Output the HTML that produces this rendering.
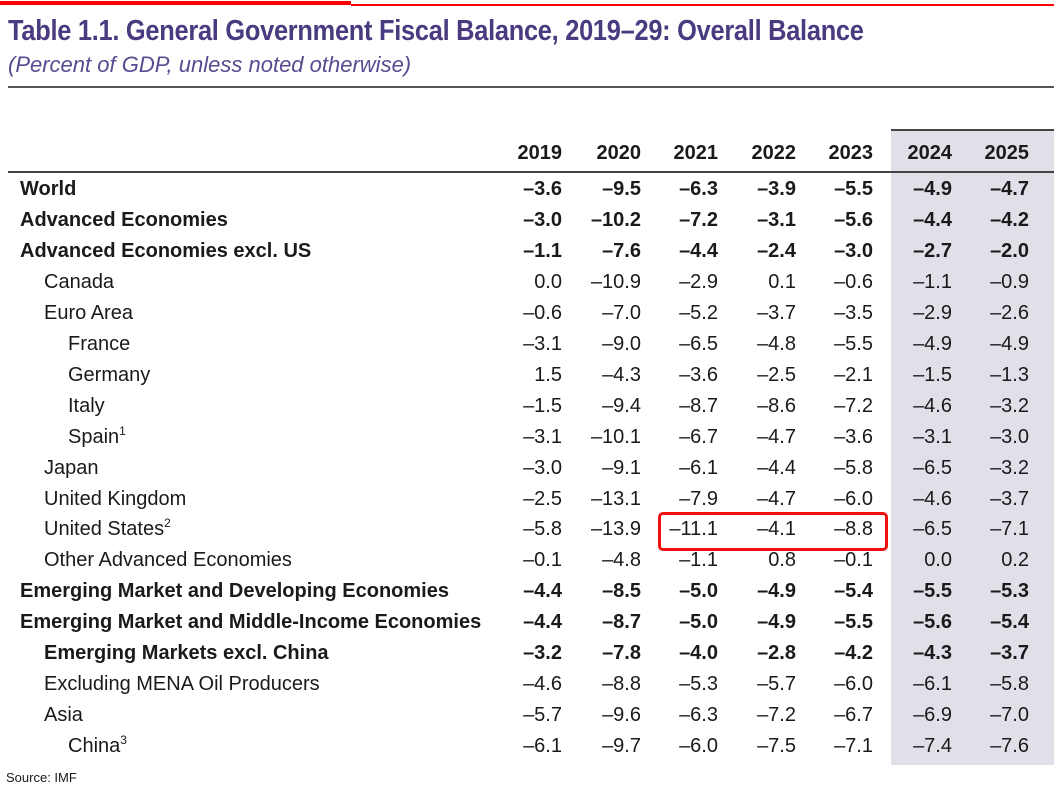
<!DOCTYPE html>
<html><head><meta charset="utf-8"><style>
body{margin:0;width:1054px;height:793px;background:#fff;position:relative;overflow:hidden;font-family:"Liberation Sans Narrow","Liberation Sans",sans-serif;color:#1a1a1a}
.a{position:absolute;white-space:nowrap}
.t{font-size:20px;line-height:24px}
.b{font-weight:bold}
.n{text-align:right;width:70px}
sup{font-size:12px;line-height:0;vertical-align:8px}
</style></head><body>
<div class="a" style="left:0;top:1px;width:351px;height:4px;background:#f00"></div>
<div class="a" style="left:351px;top:4px;width:703px;height:2px;background:#f00"></div>
<div class="a b" style="left:8px;top:15px;font-size:29px;color:#4a3a80;letter-spacing:-0.3px;transform:scaleX(0.875);transform-origin:0 0">Table 1.1. General Government Fiscal Balance, 2019–29: Overall Balance</div>
<div class="a" style="left:8px;top:52px;font-size:22px;font-style:italic;color:#5a4a90">(Percent of GDP, unless noted otherwise)</div>
<div class="a" style="left:8px;top:86px;width:1046px;height:2px;background:#555"></div>
<div class="a" style="left:891px;top:129px;width:163px;height:636px;background:#e3dfe9"></div>
<div class="a" style="left:891px;top:129px;width:163px;height:2px;background:#444"></div>
<div class="a" style="left:8px;top:171px;width:1046px;height:2px;background:#444"></div>
<div id="tbl"></div>
<div class="a" style="left:658px;top:512px;width:224px;height:33px;border:3px solid #f01010;border-radius:5px"></div>
<div class="a" style="left:6px;top:770px;font-family:'Liberation Sans',sans-serif;font-size:13px">Source: IMF</div>
<script>
const years=["2019","2020","2021","2022","2023","2024","2025"];
const labels=["World","Advanced Economies","Advanced Economies excl. US","Canada","Euro Area","France","Germany","Italy","Spain","Japan","United Kingdom","United States","Other Advanced Economies","Emerging Market and Developing Economies","Emerging Market and Middle-Income Economies","Emerging Markets excl. China","Excluding MENA Oil Producers","Asia","China"];
const notes=["","","","","","","","","1","","","2","","","","","","","3"];
const indent=[0,0,0,1,1,2,2,2,2,1,1,1,1,0,0,1,1,1,2];
const bold=[1,1,1,0,0,0,0,0,0,0,0,0,0,1,1,1,0,0,0];
const values=[
[-3.6,-9.5,-6.3,-3.9,-5.5,-4.9,-4.7],
[-3.0,-10.2,-7.2,-3.1,-5.6,-4.4,-4.2],
[-1.1,-7.6,-4.4,-2.4,-3.0,-2.7,-2.0],
[0.0,-10.9,-2.9,0.1,-0.6,-1.1,-0.9],
[-0.6,-7.0,-5.2,-3.7,-3.5,-2.9,-2.6],
[-3.1,-9.0,-6.5,-4.8,-5.5,-4.9,-4.9],
[1.5,-4.3,-3.6,-2.5,-2.1,-1.5,-1.3],
[-1.5,-9.4,-8.7,-8.6,-7.2,-4.6,-3.2],
[-3.1,-10.1,-6.7,-4.7,-3.6,-3.1,-3.0],
[-3.0,-9.1,-6.1,-4.4,-5.8,-6.5,-3.2],
[-2.5,-13.1,-7.9,-4.7,-6.0,-4.6,-3.7],
[-5.8,-13.9,-11.1,-4.1,-8.8,-6.5,-7.1],
[-0.1,-4.8,-1.1,0.8,-0.1,0.0,0.2],
[-4.4,-8.5,-5.0,-4.9,-5.4,-5.5,-5.3],
[-4.4,-8.7,-5.0,-4.9,-5.5,-5.6,-5.4],
[-3.2,-7.8,-4.0,-2.8,-4.2,-4.3,-3.7],
[-4.6,-8.8,-5.3,-5.7,-6.0,-6.1,-5.8],
[-5.7,-9.6,-6.3,-7.2,-6.7,-6.9,-7.0],
[-6.1,-9.7,-6.0,-7.5,-7.1,-7.4,-7.6]];
const colRight=[562,641,718,796,873,952,1029];
const c=document.getElementById('tbl');
function fmt(v){return (v<0?'\u2013':'')+Math.abs(v).toFixed(1);}
years.forEach((y,j)=>{
 const d=document.createElement('div');
 d.className='a t b n';
 d.style.left=(colRight[j]-70)+'px';d.style.top='141px';
 d.textContent=y;
 
 
 c.appendChild(d);
});
labels.forEach((l,i)=>{
 const top=177+i*30.95;
 const d=document.createElement('div');
 d.className='a t'+(bold[i]?' b':'');
 d.style.left=(20+indent[i]*24)+'px';d.style.top=top+'px';
 d.innerHTML=l+(notes[i]?'<sup>'+notes[i]+'</sup>':'');
 
 
 c.appendChild(d);
 values[i].forEach((v,j)=>{
  const e=document.createElement('div');
  e.className='a t n'+(bold[i]?' b':'');
  e.style.left=(colRight[j]-70)+'px';e.style.top=top+'px';
  e.textContent=fmt(v);
  
  
  c.appendChild(e);
 });
});
</script>
</body></html>
